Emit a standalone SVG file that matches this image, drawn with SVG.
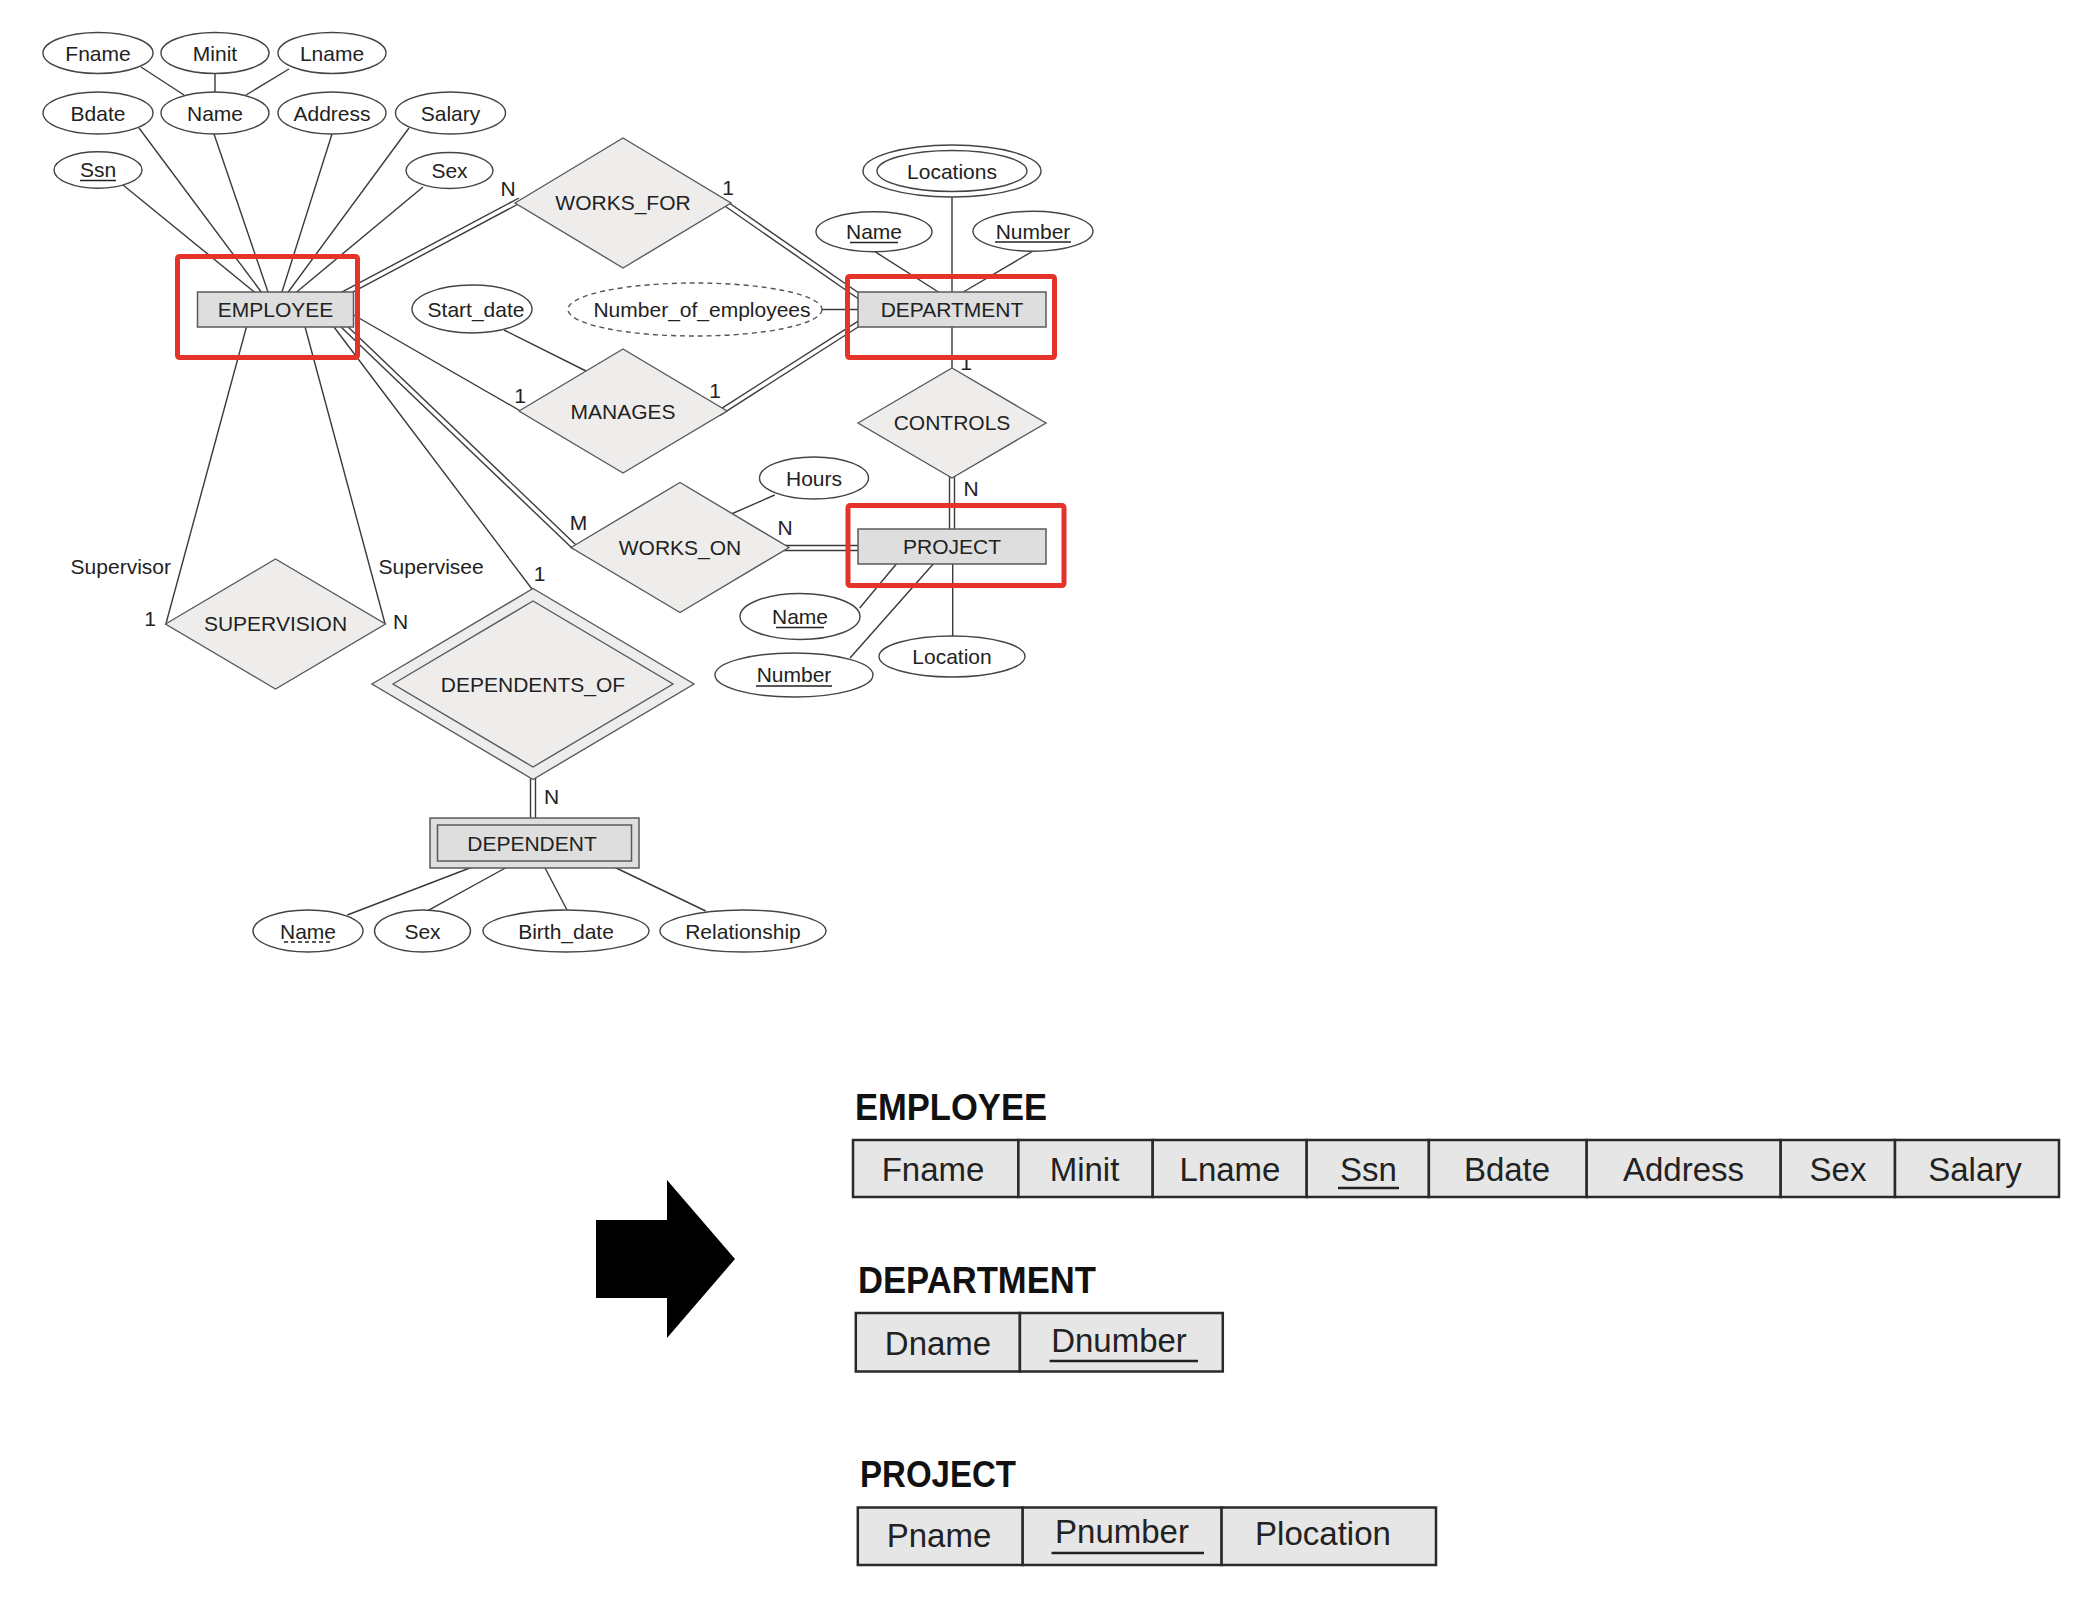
<svg xmlns="http://www.w3.org/2000/svg" width="2090" height="1604" viewBox="0 0 2090 1604">
<style>
  .ln{stroke:#3a3a3a;stroke-width:1.4;fill:none}
  .att{fill:#fff;stroke:#444;stroke-width:1.4}
  .dash{fill:#fff;stroke:#555;stroke-width:1.4;stroke-dasharray:5 4}
  .ent{fill:#dedede;stroke:#5a5a5a;stroke-width:1.5}
  .rel{fill:#efedec;stroke:#5a5a5a;stroke-width:1.4}
  .t{font-family:"Liberation Sans",Arial,sans-serif;font-size:21px;fill:#222;text-anchor:middle}
  .l{font-family:"Liberation Sans",Arial,sans-serif;font-size:21px;fill:#222}
  .ul{stroke:#222;stroke-width:1.3}
  .hl{fill:none;stroke:#e5332a;stroke-width:5}
  .h{font-family:"Liberation Sans",Arial,sans-serif;font-size:36px;font-weight:bold;fill:#111}
  .c{font-family:"Liberation Sans",Arial,sans-serif;font-size:33px;fill:#222;text-anchor:middle}
  .cell{fill:#e6e6e6;stroke:#2a2a2a;stroke-width:2.5}
  .cul{stroke:#222;stroke-width:2.5}
</style>
<rect width="2090" height="1604" fill="#fff"/>

<g id="connectors">
  <!-- EMPLOYEE attributes -->
  <line class="ln" x1="141" y1="67" x2="184" y2="95"/>
  <line class="ln" x1="215" y1="73" x2="215" y2="93"/>
  <line class="ln" x1="289" y1="69" x2="246" y2="95"/>
  <line class="ln" x1="123" y1="185" x2="258" y2="295"/>
  <line class="ln" x1="139" y1="128" x2="263.5" y2="295"/>
  <line class="ln" x1="214" y1="134" x2="269" y2="295"/>
  <line class="ln" x1="332" y1="134" x2="281" y2="295"/>
  <line class="ln" x1="409" y1="128" x2="286" y2="295"/>
  <line class="ln" x1="423" y1="187" x2="293" y2="295"/>
  <!-- WORKS_FOR double -->
  <line class="ln" x1="330" y1="298.4" x2="519" y2="198"/>
  <line class="ln" x1="332.5" y1="302.9" x2="521" y2="202.5"/>
  <line class="ln" x1="722" y1="198" x2="866" y2="298"/>
  <line class="ln" x1="719" y1="202" x2="863" y2="302"/>
  <!-- MANAGES -->
  <line class="ln" x1="345" y1="310" x2="524" y2="413"/>
  <line class="ln" x1="720" y1="415.3" x2="866" y2="322"/>
  <line class="ln" x1="717.3" y1="411.1" x2="863.3" y2="317.8"/>
  <line class="ln" x1="504" y1="330" x2="588" y2="372"/>
  <!-- Number_of_employees -->
  <line class="ln" x1="822" y1="309.5" x2="860" y2="309.5"/>
  <!-- DEPARTMENT attributes -->
  <line class="ln" x1="952" y1="197" x2="952" y2="294"/>
  <line class="ln" x1="875" y1="251.7" x2="940" y2="293"/>
  <line class="ln" x1="1033" y1="251" x2="961.7" y2="293"/>
  <!-- CONTROLS -->
  <line class="ln" x1="952" y1="325" x2="952" y2="372"/>
  <line class="ln" x1="949.5" y1="470" x2="949.5" y2="532"/>
  <line class="ln" x1="954.5" y1="470" x2="954.5" y2="532"/>
  <!-- WORKS_ON -->
  <line class="ln" x1="341" y1="327" x2="573" y2="549"/>
  <line class="ln" x1="344.5" y1="323.4" x2="576.5" y2="545.4"/>
  <line class="ln" x1="780" y1="545.5" x2="862" y2="545.5"/>
  <line class="ln" x1="780" y1="550.5" x2="862" y2="550.5"/>
  <line class="ln" x1="774.8" y1="495" x2="729" y2="515"/>
  <!-- PROJECT attributes -->
  <line class="ln" x1="859.7" y1="608" x2="898" y2="562"/>
  <line class="ln" x1="850" y1="658" x2="935" y2="562"/>
  <line class="ln" x1="952.7" y1="562" x2="952.7" y2="636"/>
  <!-- SUPERVISION -->
  <line class="ln" x1="247.5" y1="323" x2="166" y2="623.5"/>
  <line class="ln" x1="304" y1="323" x2="385" y2="623.5"/>
  <!-- DEPENDENTS_OF -->
  <line class="ln" x1="330.2" y1="322" x2="532.7" y2="590"/>
  <line class="ln" x1="530.5" y1="772" x2="530.5" y2="822"/>
  <line class="ln" x1="535.5" y1="772" x2="535.5" y2="822"/>
  <!-- DEPENDENT attributes -->
  <line class="ln" x1="347.3" y1="915" x2="475" y2="866"/>
  <line class="ln" x1="426" y1="911.7" x2="509" y2="866"/>
  <line class="ln" x1="567" y1="910" x2="544" y2="866"/>
  <line class="ln" x1="705.7" y1="911" x2="612" y2="866"/>
</g>

<!-- Attributes of EMPLOYEE -->
<g id="attr-fname"><ellipse class="att" cx="98" cy="53" rx="55" ry="20.5"/><text class="t" x="98" y="60.5">Fname</text></g>
<g id="attr-minit"><ellipse class="att" cx="215" cy="53" rx="54" ry="20.5"/><text class="t" x="215" y="60.5">Minit</text></g>
<g id="attr-lname"><ellipse class="att" cx="332" cy="53" rx="54" ry="20.5"/><text class="t" x="332" y="60.5">Lname</text></g>
<g id="attr-bdate"><ellipse class="att" cx="98" cy="113" rx="55" ry="21"/><text class="t" x="98" y="120.5">Bdate</text></g>
<g id="attr-name"><ellipse class="att" cx="215" cy="113" rx="54" ry="21"/><text class="t" x="215" y="120.5">Name</text></g>
<g id="attr-address"><ellipse class="att" cx="332" cy="113" rx="54" ry="21"/><text class="t" x="332" y="120.5">Address</text></g>
<g id="attr-salary"><ellipse class="att" cx="450.5" cy="113" rx="55" ry="21"/><text class="t" x="450.5" y="120.5">Salary</text></g>
<g id="attr-ssn"><ellipse class="att" cx="98" cy="170" rx="44" ry="18.3"/><text class="t" x="98" y="177">Ssn</text><line class="ul" x1="80" y1="180.5" x2="116" y2="180.5"/></g>
<g id="attr-sex"><ellipse class="att" cx="449.5" cy="170.5" rx="43.5" ry="18"/><text class="t" x="449.5" y="177.5">Sex</text></g>

<!-- EMPLOYEE -->
<g id="employee"><rect class="ent" x="197.5" y="292" width="156" height="35"/><text class="t" x="275.5" y="317">EMPLOYEE</text></g>

<!-- WORKS_FOR -->
<g id="works-for"><polygon class="rel" points="515,203 623,138 731,203 623,268"/><text class="t" x="623" y="210">WORKS_FOR</text></g>

<!-- Start_date / Number_of_employees -->
<g id="attr-start-date"><ellipse class="att" cx="472" cy="309" rx="60" ry="24"/><text class="t" x="476" y="316.5">Start_date</text></g>
<g id="attr-num-employees"><ellipse class="dash" cx="695" cy="309.5" rx="127" ry="26.5"/><text class="t" x="702" y="316.5">Number_of_employees</text></g>

<!-- DEPARTMENT attributes -->
<g id="attr-locations"><ellipse class="att" cx="952" cy="171" rx="89" ry="26"/><ellipse class="att" cx="952" cy="171" rx="75" ry="20.5"/><text class="t" x="952" y="178.5">Locations</text></g>
<g id="attr-dname"><ellipse class="att" cx="874" cy="231.7" rx="58" ry="20"/><text class="t" x="874" y="239">Name</text><line class="ul" x1="850" y1="242.5" x2="898" y2="242.5"/></g>
<g id="attr-dnumber"><ellipse class="att" cx="1033" cy="231.2" rx="60" ry="20"/><text class="t" x="1033" y="238.5">Number</text><line class="ul" x1="995" y1="242" x2="1071" y2="242"/></g>

<!-- DEPARTMENT -->
<g id="department"><rect class="ent" x="858" y="292" width="188" height="35"/><text class="t" x="952" y="317">DEPARTMENT</text></g>

<!-- MANAGES -->
<g id="manages"><polygon class="rel" points="519,411 623,349 727,411 623,473"/><text class="t" x="623" y="418.5">MANAGES</text></g>

<!-- CONTROLS -->
<g id="controls"><polygon class="rel" points="858,423 952,368 1046,423 952,478"/><text class="t" x="952" y="430">CONTROLS</text></g>

<!-- Hours -->
<g id="attr-hours"><ellipse class="att" cx="814" cy="478" rx="54.5" ry="21"/><text class="t" x="814" y="485.5">Hours</text></g>

<!-- WORKS_ON -->
<g id="works-on"><polygon class="rel" points="571,547.5 680,482.5 789,547.5 680,612.5"/><text class="t" x="680" y="555">WORKS_ON</text></g>

<!-- PROJECT -->
<g id="project"><rect class="ent" x="858" y="529" width="188" height="35"/><text class="t" x="952" y="554">PROJECT</text></g>

<!-- PROJECT attributes -->
<g id="attr-pname"><ellipse class="att" cx="800" cy="616.5" rx="60" ry="23"/><text class="t" x="800" y="623.5">Name</text><line class="ul" x1="776" y1="627.5" x2="824" y2="627.5"/></g>
<g id="attr-pnumber"><ellipse class="att" cx="794" cy="675" rx="79" ry="22"/><text class="t" x="794" y="682">Number</text><line class="ul" x1="756" y1="686" x2="832" y2="686"/></g>
<g id="attr-plocation"><ellipse class="att" cx="952" cy="656.5" rx="73" ry="20.5"/><text class="t" x="952" y="664">Location</text></g>

<!-- SUPERVISION -->
<g id="supervision"><polygon class="rel" points="165.5,624 275.5,559 385.5,624 275.5,689"/><text class="t" x="275.5" y="631">SUPERVISION</text></g>

<!-- DEPENDENTS_OF -->
<g id="dependents-of"><polygon class="rel" points="372,684 533,588.5 694,684 533,779.5"/><polygon class="rel" points="393,684 533,601 673,684 533,767"/><text class="t" x="533" y="691.5">DEPENDENTS_OF</text></g>

<!-- DEPENDENT -->
<g id="dependent"><rect class="ent" x="430" y="818" width="209" height="50"/><rect class="ent" x="437.5" y="825" width="194" height="36"/><text class="t" x="532" y="850.5">DEPENDENT</text></g>

<!-- DEPENDENT attributes -->
<g id="attr-dep-name"><ellipse class="att" cx="308" cy="931" rx="55" ry="21"/><text class="t" x="308" y="938.5">Name</text><line class="ul" x1="284" y1="942" x2="332" y2="942" stroke-dasharray="4 3"/></g>
<g id="attr-dep-sex"><ellipse class="att" cx="422.5" cy="931" rx="48" ry="21"/><text class="t" x="422.5" y="938.5">Sex</text></g>
<g id="attr-dep-birth"><ellipse class="att" cx="566" cy="931" rx="83" ry="21"/><text class="t" x="566" y="938.5">Birth_date</text></g>
<g id="attr-dep-rel"><ellipse class="att" cx="743" cy="931" rx="83" ry="21"/><text class="t" x="743" y="938.5">Relationship</text></g>

<!-- Cardinality and role labels -->
<g id="labels">
  <text class="t" x="508" y="195.5">N</text>
  <text class="t" x="728" y="194.5">1</text>
  <text class="t" x="520" y="402.5">1</text>
  <text class="t" x="715" y="397.5">1</text>
  <text class="t" x="966" y="370">1</text>
  <text class="t" x="971" y="495.5">N</text>
  <text class="t" x="578.5" y="529.5">M</text>
  <text class="t" x="785" y="534.5">N</text>
  <text class="t" x="539.5" y="581">1</text>
  <text class="t" x="551.5" y="803.5">N</text>
  <text class="l" x="171" y="573.5" text-anchor="end">Supervisor</text>
  <text class="l" x="378.6" y="573.5">Supervisee</text>
  <text class="t" x="150" y="625.5">1</text>
  <text class="t" x="400.7" y="629">N</text>
</g>

<!-- Highlight boxes -->
<g id="highlights">
  <rect class="hl" x="177.5" y="256.5" width="180" height="101" rx="2"/>
  <rect class="hl" x="847.5" y="276.5" width="207" height="81" rx="2"/>
  <rect class="hl" x="848" y="505.5" width="216" height="80" rx="2"/>
</g>

<!-- Arrow -->
<g id="arrow"><polygon points="596,1220 667,1220 667,1180 735,1259 667,1338 667,1298 596,1298" fill="#000"/></g>

<!-- Relation EMPLOYEE -->
<g id="rel-employee">
  <text class="h" x="855" y="1119.5" textLength="192" lengthAdjust="spacingAndGlyphs">EMPLOYEE</text>
  <rect class="cell" x="853" y="1140" width="165.4" height="57"/>
  <rect class="cell" x="1018.4" y="1140" width="134.3" height="57"/>
  <rect class="cell" x="1152.7" y="1140" width="154" height="57"/>
  <rect class="cell" x="1306.7" y="1140" width="122.2" height="57"/>
  <rect class="cell" x="1428.9" y="1140" width="157.8" height="57"/>
  <rect class="cell" x="1586.7" y="1140" width="194" height="57"/>
  <rect class="cell" x="1780.7" y="1140" width="114.3" height="57"/>
  <rect class="cell" x="1895" y="1140" width="164" height="57"/>
  <text class="c" x="933" y="1181">Fname</text>
  <text class="c" x="1084.5" y="1181">Minit</text>
  <text class="c" x="1230" y="1181">Lname</text>
  <text class="c" x="1368.5" y="1181">Ssn</text>
  <line class="cul" x1="1338" y1="1188" x2="1399" y2="1188"/>
  <text class="c" x="1507" y="1181">Bdate</text>
  <text class="c" x="1683.5" y="1181">Address</text>
  <text class="c" x="1838" y="1181">Sex</text>
  <text class="c" x="1975" y="1181">Salary</text>
</g>

<!-- Relation DEPARTMENT -->
<g id="rel-department">
  <text class="h" x="858" y="1292.5" textLength="238" lengthAdjust="spacingAndGlyphs">DEPARTMENT</text>
  <rect class="cell" x="855.8" y="1313" width="164.1" height="58.5"/>
  <rect class="cell" x="1019.9" y="1313" width="202.9" height="58.5"/>
  <text class="c" x="938" y="1355">Dname</text>
  <text class="c" x="1119" y="1352">Dnumber</text>
  <line class="cul" x1="1049.6" y1="1361" x2="1198" y2="1361"/>
</g>

<!-- Relation PROJECT -->
<g id="rel-project">
  <text class="h" x="860" y="1486.5" textLength="156" lengthAdjust="spacingAndGlyphs">PROJECT</text>
  <rect class="cell" x="857.8" y="1507.5" width="164.9" height="57.5"/>
  <rect class="cell" x="1022.7" y="1507.5" width="198.9" height="57.5"/>
  <rect class="cell" x="1221.6" y="1507.5" width="214.4" height="57.5"/>
  <text class="c" x="939" y="1546.5">Pname</text>
  <text class="c" x="1122" y="1543">Pnumber</text>
  <line class="cul" x1="1051.5" y1="1553" x2="1204" y2="1553"/>
  <text class="c" x="1323" y="1545">Plocation</text>
</g>
</svg>
